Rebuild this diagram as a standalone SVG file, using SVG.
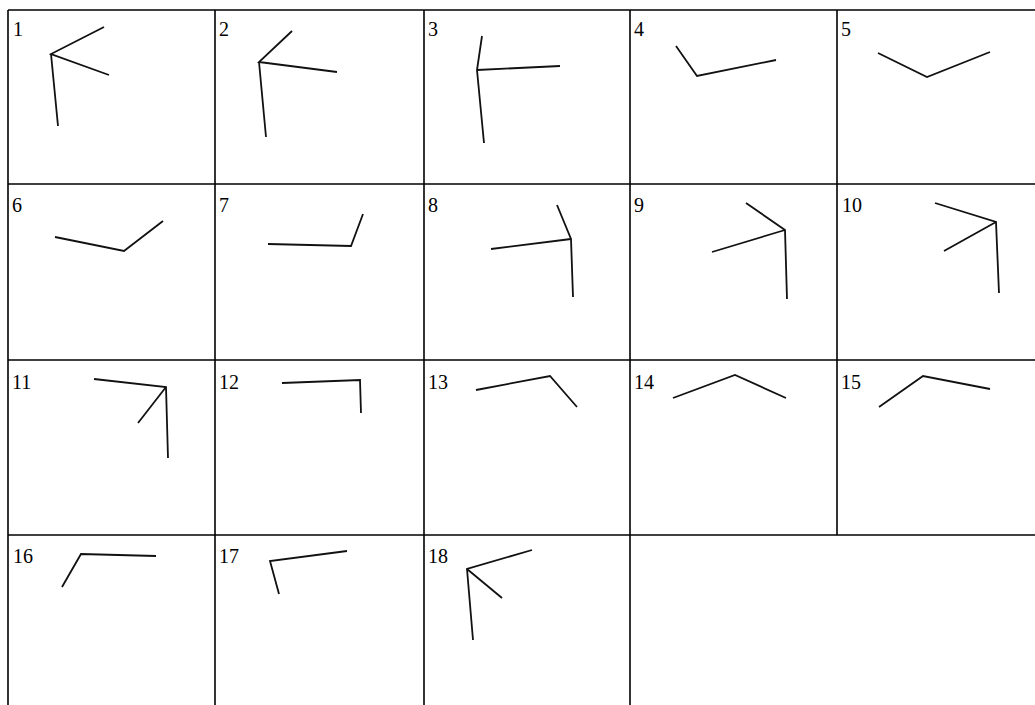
<svg xmlns="http://www.w3.org/2000/svg" width="1035" height="705" viewBox="0 0 1035 705">
<style>
.grid{stroke:#000;stroke-width:1.6;fill:none}
.fig{stroke:#111;stroke-width:1.8;fill:none;stroke-linejoin:miter;stroke-linecap:butt}
.lbl{font-family:"Liberation Serif","Times New Roman",serif;font-size:20px;fill:#000}
</style>
<rect width="1035" height="705" fill="#fff"/>
<g id="grid" class="grid">
<line x1="8" y1="10" x2="1035" y2="10"/>
<line x1="8" y1="184" x2="1035" y2="184"/>
<line x1="8" y1="360" x2="1035" y2="360"/>
<line x1="8" y1="535" x2="1035" y2="535"/>
<line x1="8" y1="10" x2="8" y2="705"/>
<line x1="215" y1="10" x2="215" y2="705"/>
<line x1="424" y1="10" x2="424" y2="705"/>
<line x1="630" y1="10" x2="630" y2="705"/>
<line x1="837" y1="10" x2="837" y2="535"/>
</g>
<g id="connectors"></g>
<g id="p1"><text class="lbl" x="13" y="36">1</text><polyline class="fig" points="104,27 51,54 109,75"/><line class="fig" x1="51" y1="54" x2="58" y2="126"/></g>
<g id="p2"><text class="lbl" x="219" y="36">2</text><polyline class="fig" points="292,31 259,62 337,72"/><line class="fig" x1="259" y1="62" x2="266" y2="137"/></g>
<g id="p3"><text class="lbl" x="428" y="36">3</text><polyline class="fig" points="482,36 477,70 484,143"/><line class="fig" x1="477" y1="70" x2="560" y2="66"/></g>
<g id="p4"><text class="lbl" x="634" y="36">4</text><polyline class="fig" points="676,46 697,76 776,60"/></g>
<g id="p5"><text class="lbl" x="841" y="36">5</text><polyline class="fig" points="878,53 927,77 990,52"/></g>
<g id="p6"><text class="lbl" x="12" y="212">6</text><polyline class="fig" points="55,237 124,251 163,221"/></g>
<g id="p7"><text class="lbl" x="219" y="212">7</text><polyline class="fig" points="268,244 351,246 363,214"/></g>
<g id="p8"><text class="lbl" x="428" y="212">8</text><polyline class="fig" points="557,205 571,239 573,297"/><line class="fig" x1="571" y1="239" x2="491" y2="249"/></g>
<g id="p9"><text class="lbl" x="634" y="212">9</text><polyline class="fig" points="746,203 785,230 787,299"/><line class="fig" x1="785" y1="230" x2="712" y2="252"/></g>
<g id="p10"><text class="lbl" x="842" y="212">10</text><polyline class="fig" points="935,203 996,222 999,293"/><line class="fig" x1="996" y1="222" x2="944" y2="251"/></g>
<g id="p11"><text class="lbl" x="12" y="389">11</text><polyline class="fig" points="94,379 166,387 168,458"/><line class="fig" x1="166" y1="387" x2="138" y2="423"/></g>
<g id="p12"><text class="lbl" x="219" y="389">12</text><polyline class="fig" points="282,383 360,380 361,413"/></g>
<g id="p13"><text class="lbl" x="428" y="389">13</text><polyline class="fig" points="476,390 550,376 577,407"/></g>
<g id="p14"><text class="lbl" x="634" y="389">14</text><polyline class="fig" points="673,398 735,375 786,398"/></g>
<g id="p15"><text class="lbl" x="841" y="389">15</text><polyline class="fig" points="879,407 923,376 990,389"/></g>
<g id="p16"><text class="lbl" x="13" y="563">16</text><polyline class="fig" points="62,587 81,554 156,556"/></g>
<g id="p17"><text class="lbl" x="219" y="563">17</text><polyline class="fig" points="347,551 270,561 279,594"/></g>
<g id="p18"><text class="lbl" x="428" y="563">18</text><polyline class="fig" points="532,550 467,569 473,640"/><line class="fig" x1="467" y1="569" x2="502" y2="598"/></g>
</svg>
